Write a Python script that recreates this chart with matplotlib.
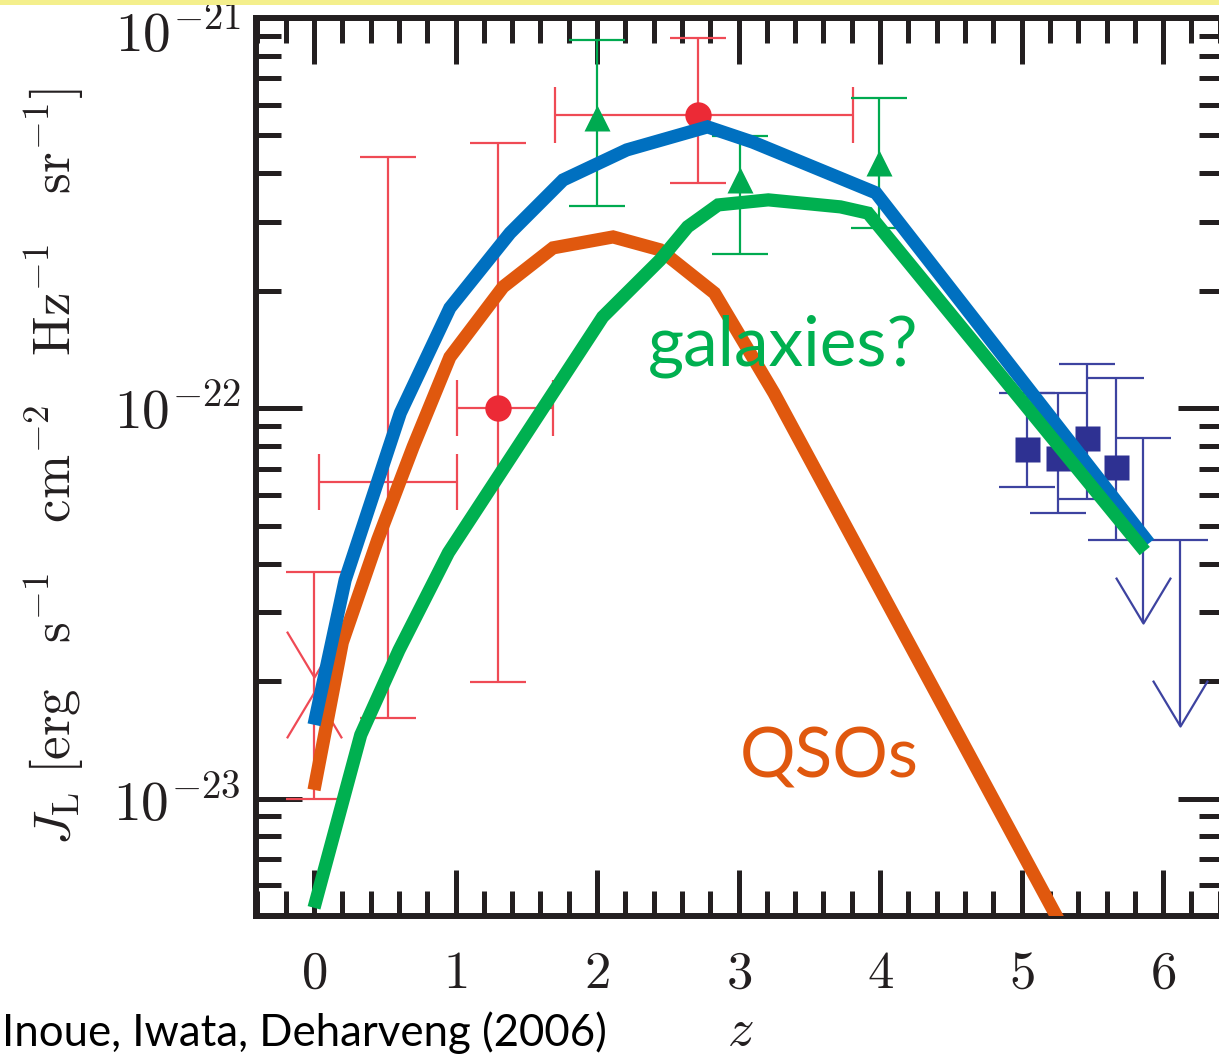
import numpy as np
import matplotlib
matplotlib.use('Agg')
import matplotlib.pyplot as plt
import matplotlib.transforms as mtransforms
from matplotlib.path import Path
from matplotlib.patches import Rectangle
from matplotlib.ticker import MultipleLocator, LogLocator, FuncFormatter, NullFormatter, FixedLocator

plt.rcParams['mathtext.fontset'] = 'cm'

# ---------------- model curves (z, log10 J_L) ----------------
total_z = [0.0, 0.22, 0.61, 0.96, 1.385, 1.76, 2.21, 2.78, 3.1, 3.97, 5.9]
total_logJ = [-22.811, -22.44, -22.012, -21.743, -21.551, -21.415, -21.338,
              -21.279, -21.318, -21.448, -22.346]

qso_z = [0.0, 0.2, 0.45, 0.70, 0.96, 1.336, 1.689, 2.113, 2.445, 2.83, 3.25, 5.26]
qso_logJ = [-22.978, -22.6, -22.337, -22.099, -21.869, -21.689, -21.589,
            -21.561, -21.594, -21.705, -21.961, -23.311]

gal_z = [0.0, 0.33, 0.6, 0.95, 2.04, 2.445, 2.64, 2.855, 3.21, 3.72, 3.915, 5.87]
gal_logJ = [-23.28, -22.837, -22.62, -22.37, -21.766, -21.62, -21.535,
            -21.479, -21.466, -21.484, -21.5, -22.366]

# ---------------- observational data ----------------
# red circles
red_z = [1.30, 2.71]
red_z_lo = [1.01, 1.70]
red_z_hi = [1.69, 3.81]
red_J = [1.0e-22, 5.64e-22]
red_J_lo = [1.99e-23, 3.77e-22]
red_J_hi = [4.78e-22, 8.88e-22]

# red range without symbol
redbar_z = [0.52]
redbar_z_lo = [0.035]
redbar_z_hi = [1.01]
redbar_J = [6.47e-23]
redbar_J_lo = [1.61e-23]
redbar_J_hi = [4.41e-22]

# red z=0 range with arrow heads
red0_z = [0.0]
red0_J_lo = [1.0e-23]
red0_J_hi = [3.81e-23]
red0_down_tip = [2.05e-23]
red0_up_tip = [1.88e-23]

# green triangles
grn_z = [2.0, 3.01, 3.99]
grn_J = [5.55e-22, 3.85e-22, 4.25e-22]
grn_J_lo = [3.3e-22, 2.48e-22, 2.9e-22]
grn_J_hi = [8.78e-22, 4.99e-22, 6.24e-22]

# blue squares
sq_z = [5.04, 5.26, 5.46, 5.67]
sq_J = [7.85e-23, 7.45e-23, 8.41e-23, 7.08e-23]
sq_J_lo = [6.28e-23, 5.38e-23, 5.87e-23, 4.6e-23]
sq_J_hi = [1.094e-22, 1.094e-22, 1.30e-22, 1.194e-22]

# blue upper limits
ul_z = [5.86, 6.12]
ul_J = [8.37e-23, 4.6e-23]
ul_tip = [2.81e-23, 1.53e-23]

x_ticks = [0, 1, 2, 3, 4, 5, 6]
y_ticks = [1e-23, 1e-22, 1e-21]

# ---------------- colours ----------------
c_total = '#0070C0'
c_qso = '#E0580E'
c_gal = '#00B050'
c_red = '#EC2A36'
c_red_err = '#EF4A55'
c_grn = '#00AA50'
c_sq = '#2E3192'
c_sq_err = '#3D43A0'
c_axis = '#231F20'

fig = plt.figure(figsize=(12.19, 10.58), dpi=100)
W, H = 1219.0, 1058.0
x0, x1, ytop, ybot = 256, 1224, 18, 916
ax = fig.add_axes([x0 / W, 1 - ybot / H, (x1 - x0) / W, (ybot - ytop) / H])

# yellow band at top of the slide
fig.patches.append(Rectangle((0, 1 - 5 / H), 1, 5 / H, transform=fig.transFigure,
                             facecolor='#F4EF8C', edgecolor='none'))

ax.set_yscale('log')
ax.set_xlim(-0.41, 6.43)
ax.set_ylim(5e-24, 1e-21)

# arrow-head markers
v_down = Path([(-0.6, 1.0), (0.0, 0.0), (0.6, 1.0)], [Path.MOVETO, Path.LINETO, Path.LINETO])
v_up = Path([(-0.6, -1.0), (0.0, 0.0), (0.6, -1.0)], [Path.MOVETO, Path.LINETO, Path.LINETO])

elw = 1.6
cs = 20

def yerr(J, lo, hi):
    J = np.asarray(J); return [J - np.asarray(lo), np.asarray(hi) - J]

def xerr(z, lo, hi):
    z = np.asarray(z); return [z - np.asarray(lo), np.asarray(hi) - z]

# red data
ax.errorbar(red_z, red_J, yerr=yerr(red_J, red_J_lo, red_J_hi),
            xerr=xerr(red_z, red_z_lo, red_z_hi), fmt='o', ms=19, color=c_red,
            mec='none', ecolor=c_red_err, elinewidth=elw, capsize=cs, capthick=elw, zorder=2)
ax.errorbar(redbar_z, redbar_J, yerr=yerr(redbar_J, redbar_J_lo, redbar_J_hi),
            xerr=xerr(redbar_z, redbar_z_lo, redbar_z_hi), fmt='none',
            ecolor=c_red_err, elinewidth=elw, capsize=cs, capthick=elw, zorder=2)
red0_mid = np.sqrt(np.array(red0_J_lo) * np.array(red0_J_hi))
ax.errorbar(red0_z, red0_mid, yerr=yerr(red0_mid, red0_J_lo, red0_J_hi), fmt='none',
            ecolor=c_red_err, elinewidth=elw, capsize=cs, capthick=elw, zorder=2)
ax.plot(red0_z, red0_down_tip, marker=v_down, ms=66, mfc='none', mec=c_red_err, mew=elw,
        ls='none', zorder=2)
ax.plot(red0_z, red0_up_tip, marker=v_up, ms=66, mfc='none', mec=c_red_err, mew=elw,
        ls='none', zorder=2)

# green data
ax.errorbar(grn_z, grn_J, yerr=yerr(grn_J, grn_J_lo, grn_J_hi), fmt='^', ms=19,
            color=c_grn, mec='none', ecolor=c_grn, elinewidth=elw, capsize=cs,
            capthick=elw, zorder=2)

# blue squares
ax.errorbar(sq_z, sq_J, yerr=yerr(sq_J, sq_J_lo, sq_J_hi), fmt='s', ms=18,
            color=c_sq, mec='none', ecolor=c_sq_err, elinewidth=elw, capsize=cs,
            capthick=elw, zorder=2)
# blue upper limits
ax.vlines(ul_z, ul_tip, ul_J, color=c_sq_err, lw=elw, zorder=2)
ax.plot(ul_z, ul_J, marker='_', ms=2 * cs, mew=elw, color=c_sq_err, ls='none', zorder=2)
ax.plot(ul_z, ul_tip, marker=v_down, ms=66, mfc='none', mec=c_sq_err, mew=elw,
        ls='none', zorder=2)

# model curves
lkw = dict(lw=9.5, solid_joinstyle='miter', solid_capstyle='butt')
ax.plot(qso_z, 10 ** np.array(qso_logJ), color=c_qso, zorder=3, **lkw)
ax.plot(total_z, 10 ** np.array(total_logJ), color=c_total, zorder=3.1, **lkw)
ax.plot(gal_z, 10 ** np.array(gal_logJ), color=c_gal, zorder=3.2, **lkw)

# labels on curves
ax.text(2.36, 1.29e-22, 'galaxies?', color=c_gal, fontsize=50, family='Lato',
        ha='left', va='baseline', zorder=4)
ax.text(3.01, 1.13e-23, 'QSOs', color=c_qso, fontsize=50, family='Lato',
        ha='left', va='baseline', zorder=4)

# ticks
ax.xaxis.set_major_locator(FixedLocator(x_ticks))
ax.xaxis.set_minor_locator(MultipleLocator(0.2))
ax.xaxis.set_major_formatter(FuncFormatter(lambda v, p: r'$%d$' % round(v)))
ax.yaxis.set_major_locator(FixedLocator(y_ticks))
ax.yaxis.set_minor_locator(LogLocator(base=10, subs=np.arange(2, 10), numticks=20))
ax.yaxis.set_major_formatter(FuncFormatter(lambda v, p: r'$10^{%d}$' % round(np.log10(v))))
ax.yaxis.set_minor_formatter(NullFormatter())
ax.tick_params(which='both', direction='in', top=True, right=True, width=3.6,
               color=c_axis, labelcolor=c_axis)
ax.tick_params(which='major', length=33)
ax.tick_params(which='minor', length=18)
ax.tick_params(axis='x', pad=22, labelsize=38)
ax.tick_params(axis='y', pad=11, labelsize=40)
for s in ax.spines.values():
    s.set_linewidth(4.3)
    s.set_color(c_axis)

# the top label sits a little below its tick, as in the original figure
top_tick = ax.yaxis.get_major_ticks()[2]
top_tick.label1.set_transform(top_tick.label1.get_transform() +
                              mtransforms.ScaledTranslation(0, -9 / 72, fig.dpi_scale_trans))

ax.set_xlabel(r'$z$', fontsize=38, labelpad=4, color=c_axis)
ax.set_ylabel(r'$J_{\rm L}\ [{\rm erg\ \ \ s^{-1}\ \ \ cm^{-2}\ \ \ Hz^{-1}\ \ \ sr^{-1}}]$',
              fontsize=38, labelpad=20, color=c_axis)

fig.text(0.002, 1 - 1046 / H, 'Inoue, Iwata, Deharveng (2006)', fontsize=31.5,
         family='Lato', ha='left', va='baseline', color='black')

fig.savefig('out.png', dpi=100)
